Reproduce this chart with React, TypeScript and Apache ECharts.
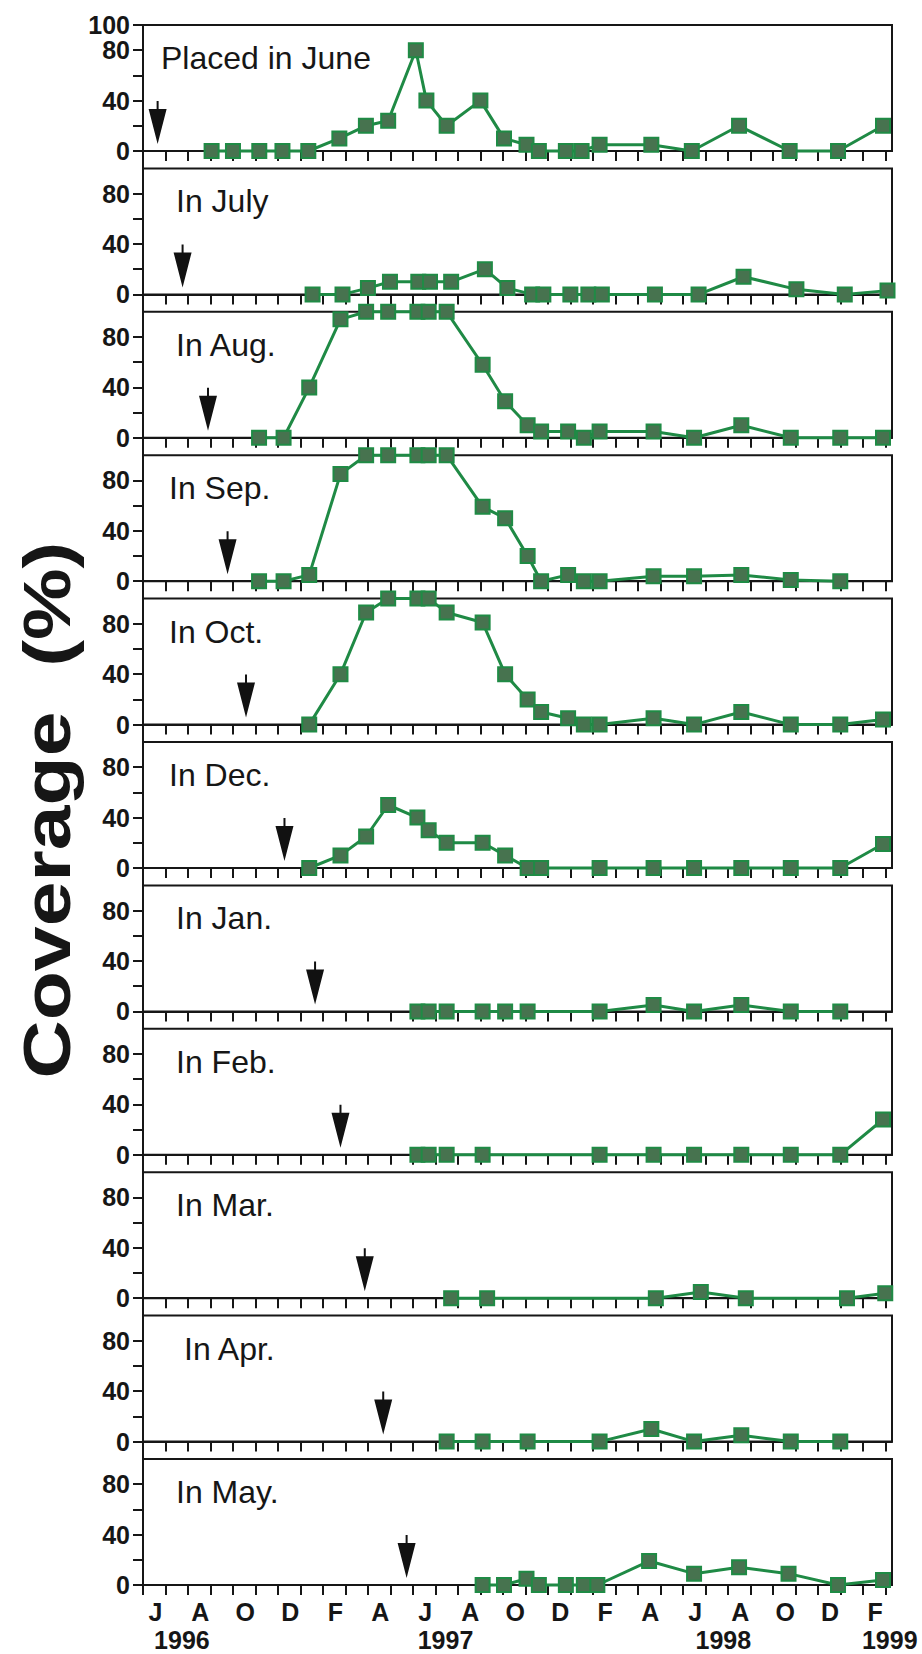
import React, { useEffect, useRef } from "react";
import * as echarts from "echarts";

// ---- data (x = months since 1 June 1996, y = coverage %) ----
const panelTitles = [
  "Placed in June", "In July", "In Aug.", "In Sep.", "In Oct.", "In Dec.",
  "In Jan.", "In Feb.", "In Mar.", "In Apr.", "In May.",
];
// month when plates were placed (arrow)
const placementMonths = [0.65, 1.76, 2.89, 3.76, 4.58, 6.29, 7.65, 8.78, 9.86, 10.68, 11.72];

const placedJune = [[3.05,0],[4.0,0],[5.17,0],[6.2,0],[7.35,0],[8.73,10],[9.91,20],[10.9,24],[12.13,80],[12.6,40],[13.5,20],[15.0,40],[16.05,10],[17.05,5],[17.6,0],[18.8,0],[19.5,0],[20.3,5],[22.6,5],[24.4,0],[26.5,20],[28.75,0],[30.9,0],[32.9,20]];
const inJuly = [[7.54,0],[8.87,0],[10.0,5],[10.98,10],[12.24,10],[12.76,10],[13.7,10],[15.2,20],[16.2,5],[17.3,0],[17.8,0],[19.0,0],[19.8,0],[20.4,0],[22.76,0],[24.7,0],[26.7,14],[29.05,4],[31.2,0],[33.1,3]];
const inAug = [[5.16,0],[6.25,0],[7.39,40],[8.78,94],[9.92,100],[10.9,100],[12.2,100],[12.7,100],[13.5,100],[15.1,58],[16.1,29],[17.1,10],[17.7,5],[18.9,5],[19.6,0],[20.3,5],[22.7,5],[24.5,0],[26.6,10],[28.8,0],[31.0,0],[32.9,0]];
const inSep = [[5.16,0],[6.25,0],[7.39,5],[8.78,85],[9.92,100],[10.9,100],[12.2,100],[12.7,100],[13.5,100],[15.1,59],[16.1,50],[17.1,20],[17.7,0],[18.9,5],[19.6,0],[20.3,0],[22.7,4],[24.5,4],[26.6,5],[28.8,1],[31.0,0]];
const inOct = [[7.39,0],[8.78,40],[9.92,89],[10.9,100],[12.2,100],[12.7,100],[13.5,89],[15.1,81],[16.1,40],[17.1,20],[17.7,10],[18.9,5],[19.6,0],[20.3,0],[22.7,5],[24.5,0],[26.6,10],[28.8,0],[31.0,0],[32.9,4]];
const inDec = [[7.39,0],[8.78,10],[9.92,25],[10.9,50],[12.2,40],[12.7,30],[13.5,20],[15.1,20],[16.1,10],[17.1,0],[17.7,0],[20.3,0],[22.7,0],[24.5,0],[26.6,0],[28.8,0],[31.0,0],[32.9,19]];
const inJan = [[12.2,0],[12.7,0],[13.5,0],[15.1,0],[16.1,0],[17.1,0],[20.3,0],[22.7,5],[24.5,0],[26.6,5],[28.8,0],[31.0,0]];
const inFeb = [[12.2,0],[12.7,0],[13.5,0],[15.1,0],[20.3,0],[22.7,0],[24.5,0],[26.6,0],[28.8,0],[31.0,0],[32.9,28]];
const inMar = [[13.7,0],[15.3,0],[22.8,0],[24.8,5],[26.8,0],[31.3,0],[33.0,4]];
const inApr = [[13.5,0],[15.1,0],[17.1,0],[20.3,0],[22.6,10],[24.5,0],[26.6,5],[28.8,0],[31.0,0]];
const inMay = [[15.1,0],[16.05,0],[17.05,5],[17.6,0],[18.8,0],[19.6,0],[20.2,0],[22.5,19],[24.5,9],[26.5,14],[28.7,9],[30.9,0],[32.9,4]];

const panelSeries = [placedJune, inJuly, inAug, inSep, inOct, inDec, inJan, inFeb, inMar, inApr, inMay];

const monthLetters = ["J","A","O","D","F","A","J","A","O","D","F","A","J","A","O","D","F"];
const monthLabelPos = monthLetters.map((_, k) => 2 * k + 0.55);
const yearLabels = ["1996", "1997", "1998", "1999"];
const yearLabelPos = [1.73, 13.45, 25.8, 33.2];
const monthTicks = Array.from({ length: 34 }, (_, k) => k);
const yTicks = [0, 20, 40, 60, 80];
const yLabels = [0, 40, 80];

// ---- layout ----
const W = 922, H = 1654;
const GL = 143, GR = 30, TOP0 = 25, PITCH = 143.4, GH = 126;
const XMAX = 33.3;
const titleX = [161, 176, 176, 169, 169, 169, 176, 176, 176, 184, 176];
const FONT = '"Liberation Sans", Arial, Helvetica, sans-serif';
const INK = "#161616";

export default function App() {
  const ref = useRef<HTMLDivElement>(null);
  useEffect(() => {
    if (!ref.current) return;
    const chart = echarts.init(ref.current, undefined, { renderer: "svg", width: W, height: H });
    const n = panelSeries.length;
    const grids: any[] = [], xAxes: any[] = [], yAxes: any[] = [], series: any[] = [], graphics: any[] = [];
    for (let i = 0; i < n; i++) {
      const top = TOP0 + PITCH * i;
      const last = i === n - 1;
      grids.push({ left: GL, right: GR, top, height: GH, show: true, borderColor: INK, borderWidth: 2, backgroundColor: "transparent" });
      xAxes.push({
        gridIndex: i, type: "value", min: 0, max: XMAX,
        axisLine: { show: true, onZero: false, lineStyle: { color: INK, width: 2 } },
        axisTick: { show: true, inside: false, length: 10, customValues: monthTicks, lineStyle: { color: INK, width: 2 } },
        axisLabel: {
          show: last, customValues: monthLabelPos, margin: 14,
          formatter: (v: number) => monthLetters[Math.round((v - 0.55) / 2)] ?? "",
          fontSize: 25, fontWeight: "bold", color: INK, fontFamily: FONT,
        },
        splitLine: { show: false },
      });
      yAxes.push({
        gridIndex: i, type: "value", min: 0, max: 100,
        axisLine: { show: true, lineStyle: { color: INK, width: 2 } },
        axisTick: { show: true, length: 10, customValues: i === 0 ? [...yTicks, 100] : yTicks, lineStyle: { color: INK, width: 2 } },
        axisLabel: {
          customValues: i === 0 ? [...yLabels, 100] : yLabels, margin: 13,
          fontSize: 25, fontWeight: "bold", color: INK, fontFamily: FONT,
        },
        splitLine: { show: false },
      });
      series.push({
        type: "line", xAxisIndex: i, yAxisIndex: i, data: panelSeries[i], clip: false,
        symbol: "rect", symbolSize: 14, showAllSymbol: true,
        lineStyle: { color: "#1f8a45", width: 3 },
        itemStyle: { color: "#47734f", borderColor: "#1f8b45", borderWidth: 2 },
        z: 3,
      });
      series.push({
        type: "scatter", xAxisIndex: i, yAxisIndex: i,
        data: [[placementMonths[i], 22.6]],
        symbol: "path://M8,0 L10,0 L10,8 L18,8 L9,43 L0,8 L8,8 Z",
        symbolSize: [18, 43], symbolKeepAspect: false,
        itemStyle: { color: "#111", opacity: 1 }, z: 4,
      });
      graphics.push({
        type: "text", x: titleX[i], y: top + 33,
        style: { text: panelTitles[i], font: `32px ${FONT}`, fill: INK, textVerticalAlign: "middle", verticalAlign: "middle" },
      });
      if (!last) {
        graphics.push({
          type: "line", shape: { x1: GL, y1: top + GH, x2: GL, y2: top + PITCH }, style: { stroke: INK, lineWidth: 2 },
        });
      }
    }
    // year labels on the last panel
    xAxes.push({
      gridIndex: n - 1, type: "value", min: 0, max: XMAX, position: "bottom",
      axisLine: { show: false }, axisTick: { show: false }, splitLine: { show: false },
      axisLabel: {
        customValues: yearLabelPos, margin: 42,
        formatter: (v: number) => yearLabels[yearLabelPos.indexOf(v)] ?? "",
        fontSize: 25, fontWeight: "bold", color: INK, fontFamily: FONT,
      },
    });
    graphics.push({
      type: "text", x: 47, y: 810, rotation: Math.PI / 2, scaleX: 1.22,
      style: {
        text: "Coverage  (%)", font: `bold 66px ${FONT}`, fill: INK,
        textAlign: "center", align: "center", textVerticalAlign: "middle", verticalAlign: "middle",
      },
    });

    chart.setOption({
      animation: false,
      backgroundColor: "#ffffff",
      grid: grids, xAxis: xAxes, yAxis: yAxes, series, graphic: graphics,
    });
    return () => chart.dispose();
  }, []);
  return <div ref={ref} style={{ position: "absolute", left: 0, top: 0, width: W, height: H, background: "#fff" }} />;
}
